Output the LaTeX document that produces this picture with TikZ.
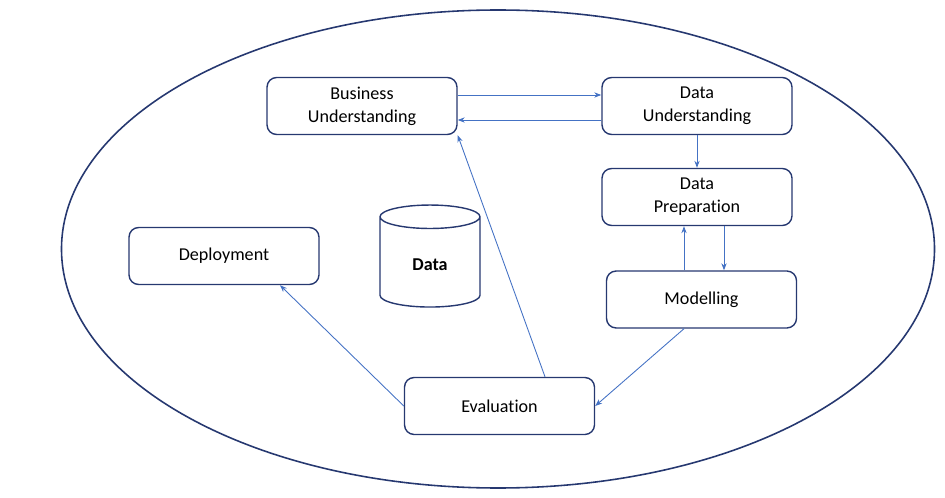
\documentclass[tikz,border=0pt]{standalone}
\usepackage{fontspec}
\setmainfont[Ligatures=NoCommon]{Carlito}
\usetikzlibrary{arrows.meta,shapes.geometric,positioning,calc}
\definecolor{navy}{RGB}{38,56,112}
\definecolor{flow}{RGB}{68,114,196}
\begin{document}
\begin{tikzpicture}[
    box/.style={draw=navy, line width=0.8pt, rounded corners=5.5pt, minimum width=3.8cm, minimum height=1.14cm, align=center, font=\fontsize{10.3}{13}\selectfont},
    store/.style={draw=navy, line width=0.8pt, cylinder, shape border rotate=90, aspect=0.5, minimum width=2cm, minimum height=2.04cm, font=\fontsize{10.3}{13}\selectfont\bfseries},
    arr/.style={-{Stealth[length=4pt,width=3pt]}, draw=flow, line width=0.5pt}
]
\useasboundingbox (0,0) rectangle (18.9,-9.96);
\node[draw=navy, line width=0.9pt, ellipse, minimum width=17.46cm, minimum height=9.56cm] (cycle) at (9.96,-4.98) {};

\node[box] (bu) at (7.24,-2.12) {Business\\Understanding};
\node[box] (du) at (13.94,-2.12) {Data\\Understanding};
\node[box] (dp) at (13.94,-3.94) {Data\\Preparation};
\node[box] (mod) at (14.03,-5.99) {Modelling};
\node[box] (dep) at (4.48,-5.12) {Deployment};
\node[box] (ev) at (9.99,-8.12) {Evaluation};
\node[store] (data) at (8.6,-5.3) {Data};

\draw[arr] ([yshift=0.22cm]bu.east) -- ([yshift=0.22cm]du.west);
\draw[arr] ([yshift=-0.28cm]du.west) -- ([yshift=-0.28cm]bu.east);
\draw[arr] (du.south) -- (dp.north);
\draw[arr] ([xshift=0.54cm]dp.south) -- ([xshift=0.54cm]dp.south |- mod.north);
\draw[arr] ([xshift=-0.35cm]mod.north) -- ([xshift=-0.35cm]mod.north |- dp.south);
\draw[arr] ([xshift=-0.35cm]mod.south) -- (ev.east);
\draw[arr] ([xshift=0.91cm]ev.north) -- (bu.south east);
\draw[arr] (ev.west) -- ([xshift=1.12cm]dep.south);
\end{tikzpicture}
\end{document}
